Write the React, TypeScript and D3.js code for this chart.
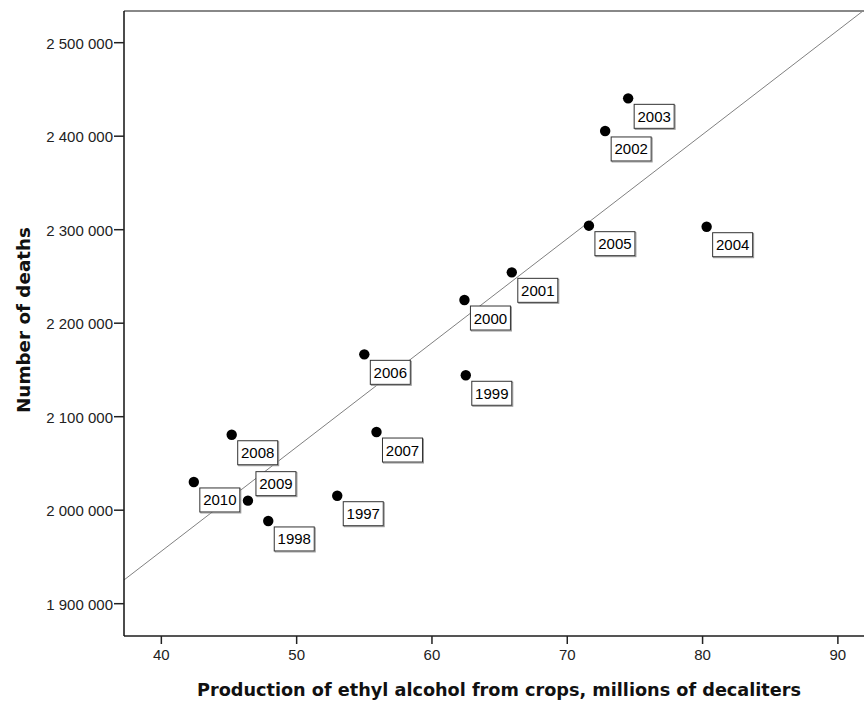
import React from "react";
import * as d3 from "d3";

const years = [1997, 1998, 1999, 2000, 2001, 2002, 2003, 2004, 2005, 2006, 2007, 2008, 2009, 2010];
const production = [53.0, 47.9, 62.5, 62.4, 65.9, 72.8, 74.5, 80.3, 71.6, 55.0, 55.9, 45.2, 46.4, 42.4];
const deaths = [2015500, 1988500, 2144300, 2224800, 2254400, 2405600, 2440500, 2303200, 2304300, 2166700, 2083600, 2080700, 2010200, 2030200];
const xTicks = [40, 50, 60, 70, 80, 90];
const yTicks = [1900000, 2000000, 2100000, 2200000, 2300000, 2400000, 2500000];
const fitIntercept = 1510400;
const fitSlope = 11143;
const labelsAbove = [2009];

const W = 864, H = 702;
const left = 124, right = 864, top = 11, bottom = 636;
const font = "Arial, 'Liberation Sans', sans-serif";
const titleFont = "'DejaVu Sans', Verdana, sans-serif";

export default function App() {
  const x = d3.scaleLinear().domain([37.24, 91.93]).range([left, right]);
  const y = d3.scaleLinear().domain([1865450, 2533900]).range([bottom, top]);
  const fmt = (v: number) => d3.format(",")(v).replace(/,/g, " ");
  const [x0, x1] = x.domain();
  const line = d3.line<number>().x((d) => x(d)).y((d) => y(fitIntercept + fitSlope * d));
  const pts = years.map((yr, i) => ({ yr, px: x(production[i]), py: y(deaths[i]) }));
  const bw = 40, bh = 24;

  return (
    <svg width={W} height={H} style={{ position: "absolute", left: 0, top: 0, background: "#fff" }}>
      <defs>
        <clipPath id="plot">
          <rect x={left} y={top} width={right - left} height={bottom - top} />
        </clipPath>
      </defs>
      <path d={line([x0, x1]) || ""} stroke="#808080" strokeWidth={1} fill="none" clipPath="url(#plot)" />
      {pts.map((p) => (
        <circle key={"c" + p.yr} cx={p.px} cy={p.py} r={5.2} fill="#000" />
      ))}
      {pts.map((p) => {
        const above = labelsAbove.includes(p.yr);
        const tx = above ? p.px + 8 : p.px + 6;
        const ty = above ? p.py - 5 - bh : p.py + 6;
        return (
          <g key={"l" + p.yr} transform={`translate(${tx},${ty})`}>
            <rect x={1} y={1} width={bw} height={bh} fill="none" stroke="#999" strokeWidth={1} />
            <rect x={0} y={0} width={bw} height={bh} fill="#fff" stroke="#333" strokeWidth={1} />
            <text x={bw / 2} y={17.5} textAnchor="middle" fontFamily={font} fontSize={15} fill="#000">{p.yr}</text>
          </g>
        );
      })}
      {/* frame */}
      <line x1={left} x2={right} y1={top} y2={top} stroke="#888" strokeWidth={2} />
      <line x1={left} x2={right} y1={bottom} y2={bottom} stroke="#555" strokeWidth={2} />
      <line x1={left} x2={left} y1={top} y2={bottom} stroke="#111" strokeWidth={1.5} />
      {yTicks.map((t) => (
        <g key={"y" + t}>
          <line x1={left - 10} x2={left} y1={y(t)} y2={y(t)} stroke="#222" strokeWidth={1.5} />
          <text x={left - 11} y={y(t) + 6} textAnchor="end" fontFamily={font} fontSize={15} fill="#222">{fmt(t)}</text>
        </g>
      ))}
      {xTicks.map((t) => (
        <g key={"x" + t}>
          <line x1={x(t)} x2={x(t)} y1={bottom} y2={bottom + 8} stroke="#222" strokeWidth={1.5} />
          <text x={x(t)} y={bottom + 24} textAnchor="middle" fontFamily={font} fontSize={15} fill="#222">{t}</text>
        </g>
      ))}
      <text x={499} y={696} textAnchor="middle" fontFamily={titleFont} fontSize={18} fontWeight="bold" fill="#111"
        textLength={604} lengthAdjust="spacingAndGlyphs">
        Production of ethyl alcohol from crops, millions of decaliters
      </text>
      <text transform={`translate(30,320) rotate(-90)`} textAnchor="middle" fontFamily={titleFont} fontSize={18} fontWeight="bold" fill="#111"
        textLength={186} lengthAdjust="spacingAndGlyphs">
        Number of deaths
      </text>
    </svg>
  );
}
